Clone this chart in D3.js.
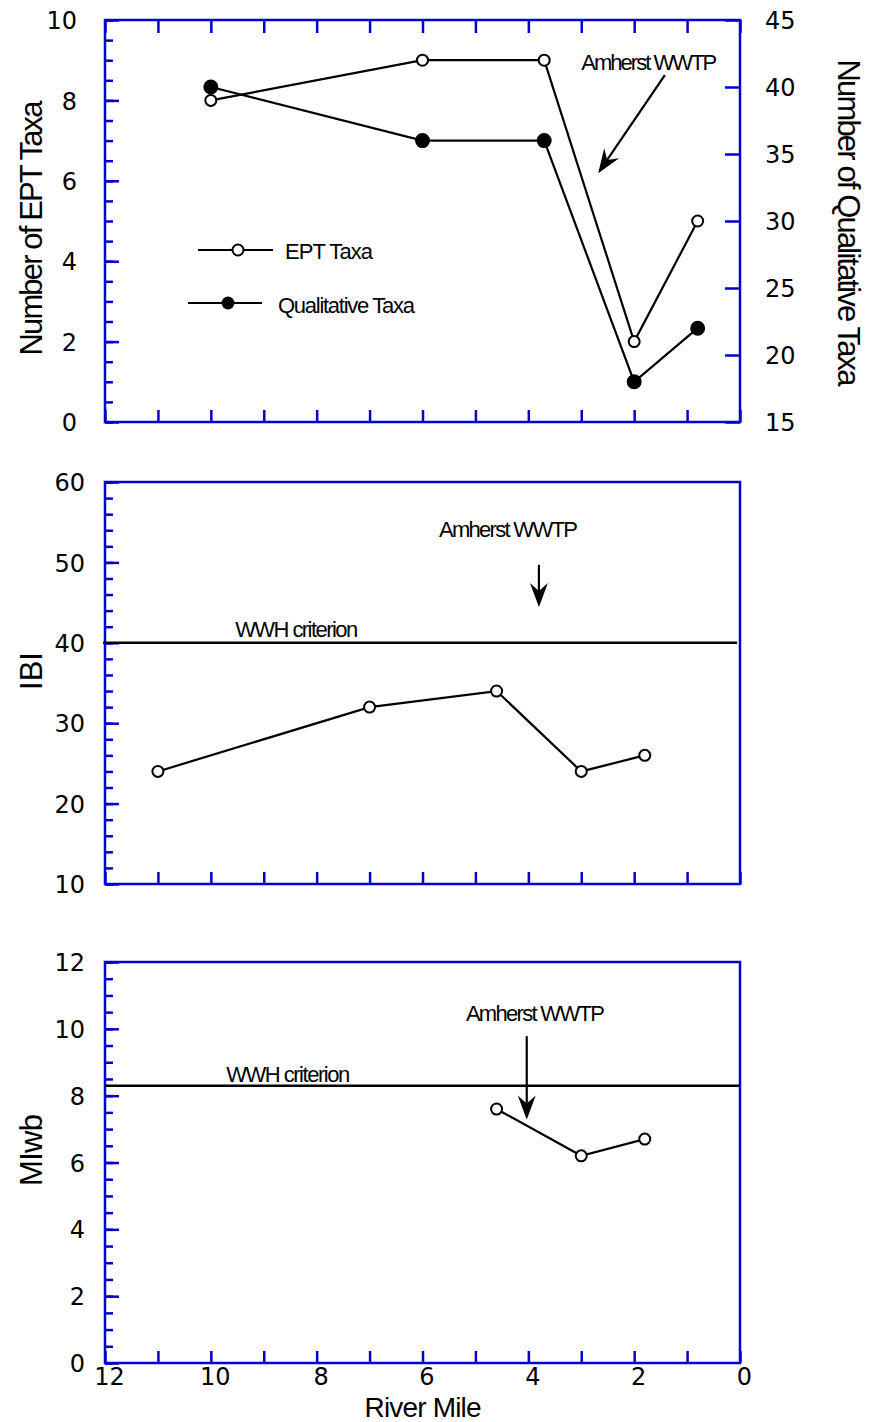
<!DOCTYPE html>
<html>
<head>
<meta charset="utf-8">
<script src="https://cdn.jsdelivr.net/npm/d3@7"></script>
<style>
  html, body { margin: 0; padding: 0; background: #ffffff; }
  svg { display: block; }
</style>
</head>
<body>
<svg id="chart" width="869" height="1422"></svg>
<script>
// ---- Data (river mile on x) ----
const eptMiles = [10, 6, 3.7, 2, 0.8];
const eptTaxa = [8, 9, 9, 2, 5];
const qualMiles = [10, 6, 3.7, 2, 0.8];
const qualTaxa = [40, 36, 36, 18, 22];
const ibiMiles = [11, 7, 4.6, 3, 1.8];
const ibiValues = [24, 32, 34, 24, 26];
const miwbMiles = [4.6, 3, 1.8];
const miwbValues = [7.6, 6.2, 6.7];
const ibiCriterion = 40;
const miwbCriterion = 8.3;

const xTickLabels = [12, 10, 8, 6, 4, 2, 0];
const eptTickLabels = [0, 2, 4, 6, 8, 10];
const qualTickLabels = [15, 20, 25, 30, 35, 40, 45];
const ibiTickLabels = [10, 20, 30, 40, 50, 60];
const miwbTickLabels = [0, 2, 4, 6, 8, 10, 12];

// ---- Layout ----
const AXIS = "#0000cc";
const svg = d3.select("#chart");
const left = 105, right = 740;
const x = d3.scaleLinear().domain([12, 0]).range([left, right]);

const yEpt = d3.scaleLinear().domain([0, 10]).range([422, 20]);
const yQual = d3.scaleLinear().domain([15, 45]).range([422, 20]);
const yIbi = d3.scaleLinear().domain([10, 60]).range([884, 482]);
const yMiwb = d3.scaleLinear().domain([0, 12]).range([1363, 962]);

const tickFont = "'DejaVu Sans', sans-serif";
const textFont = "'Liberation Sans', Arial, sans-serif";

function styleAxis(g) {
  g.select(".domain").remove();
  g.selectAll(".tick line").attr("stroke", AXIS).attr("stroke-width", 2.5);
  g.selectAll(".tick text").attr("fill", "#000").style("font-family", tickFont).style("font-size", "24px");
}

function range(a, b, step) {
  const out = [];
  for (let v = a; v <= b + 1e-9; v += step) out.push(+v.toFixed(4));
  return out;
}

// Frame, x ticks and left axis of a panel
function panelFrame(y, majors, minorStep, labelPad, opts) {
  const [y0, y1] = y.range();
  const g = svg.append("g");
  // minor ticks on the left axis
  g.append("g").attr("transform", `translate(${left},0)`)
    .call(d3.axisLeft(y).tickValues(range(y.domain()[0], y.domain()[1], minorStep)).tickSizeInner(-8).tickSizeOuter(0).tickFormat(""))
    .call(styleAxis);
  // major ticks with labels
  g.append("g").attr("transform", `translate(${left},0)`)
    .call(d3.axisLeft(y).tickValues(majors).tickSizeInner(-14).tickSizeOuter(0).tickPadding(labelPad).tickFormat(d3.format("d")))
    .call(styleAxis)
    .call(a => a.selectAll(".tick text").attr("dy", "0.36em"));
  // x ticks at each mile along the bottom
  g.append("g").attr("transform", `translate(0,${y0})`)
    .call(d3.axisBottom(x).tickValues(range(0, 12, 1)).tickSizeInner(-12).tickSizeOuter(0).tickFormat(""))
    .call(styleAxis);
  if (opts && opts.topTicks) {
    g.append("g").attr("transform", `translate(0,${y1})`)
      .call(d3.axisTop(x).tickValues(range(0, 12, 1)).tickSizeInner(-13).tickSizeOuter(0).tickFormat(""))
      .call(styleAxis);
  }
  // frame
  g.append("rect").attr("x", left).attr("y", y1).attr("width", right - left).attr("height", y0 - y1)
    .attr("fill", "none").attr("stroke", AXIS).attr("stroke-width", 2.5);
  return g;
}

function series(miles, values, y, filled, r) {
  const pts = miles.map((m, i) => [m, values[i]]);
  svg.append("path").datum(pts)
    .attr("d", d3.line().x(d => x(d[0])).y(d => y(d[1])))
    .attr("fill", "none").attr("stroke", "#000").attr("stroke-width", 2.2);
  svg.append("g").selectAll("circle").data(pts).join("circle")
    .attr("cx", d => x(d[0])).attr("cy", d => y(d[1])).attr("r", r)
    .attr("fill", filled ? "#000" : "#fff").attr("stroke", "#000").attr("stroke-width", 2);
}

function arrow(x1, y1, x2, y2) {
  const dx = x2 - x1, dy = y2 - y1, len = Math.hypot(dx, dy);
  const ux = dx / len, uy = dy / len, nx = -uy, ny = ux;
  const L = 24, W = 9, notch = 8;
  const bx = x2 - L * ux, by = y2 - L * uy;
  const mx = x2 - (L - notch) * ux, my = y2 - (L - notch) * uy;
  svg.append("line").attr("x1", x1).attr("y1", y1).attr("x2", mx).attr("y2", my)
    .attr("stroke", "#000").attr("stroke-width", 2.2);
  svg.append("path")
    .attr("d", `M${x2},${y2}L${bx + W * nx},${by + W * ny}L${mx},${my}L${bx - W * nx},${by - W * ny}Z`)
    .attr("fill", "#000");
}

function label(px, py, str, size, len, rotate) {
  const t = svg.append("text")
    .attr("transform", `translate(${px},${py})` + (rotate ? ` rotate(${rotate})` : ""))
    .attr("text-anchor", "middle")
    .style("font-family", textFont).style("font-size", size + "px")
    .text(str);
  if (len) t.attr("textLength", len).attr("lengthAdjust", "spacing");
  return t;
}

function note(px, py, str, len) {
  svg.append("text").attr("x", px).attr("y", py)
    .style("font-family", textFont).style("font-size", "22px")
    .attr("textLength", len).attr("lengthAdjust", "spacing")
    .text(str);
}

// ---- Panel 1: EPT and qualitative taxa ----
panelFrame(yEpt, eptTickLabels, 0.5, 28, { topTicks: true });
svg.append("g").attr("transform", `translate(${right},0)`)
  .call(d3.axisRight(yQual).tickValues(qualTickLabels).tickSizeInner(-15).tickSizeOuter(0).tickPadding(25).tickFormat(d3.format("d")))
  .call(styleAxis)
  .call(a => a.selectAll(".tick text").attr("dy", "0.36em"));

series(eptMiles, eptTaxa, yEpt, false, 5.5);
series(qualMiles, qualTaxa, yQual, true, 6.5);

// legend
svg.append("line").attr("x1", 198).attr("x2", 273).attr("y1", 250).attr("y2", 250).attr("stroke", "#000").attr("stroke-width", 2.2);
svg.append("circle").attr("cx", 238).attr("cy", 250).attr("r", 5.5).attr("fill", "#fff").attr("stroke", "#000").attr("stroke-width", 2);
note(285, 259, "EPT Taxa", 88);
svg.append("line").attr("x1", 188).attr("x2", 262).attr("y1", 303).attr("y2", 303).attr("stroke", "#000").attr("stroke-width", 2.2);
svg.append("circle").attr("cx", 228).attr("cy", 303).attr("r", 6.5).attr("fill", "#000");
note(278, 313, "Qualitative Taxa", 137);

note(x(3.0), yEpt(8.76), "Amherst WWTP", 136);
arrow(x(1.42), yEpt(8.63), x(2.68), yEpt(6.19));

label(42, 228, "Number of EPT Taxa", 31, 255, -90);
label(838, 223, "Number of Qualitative Taxa", 31, 327, 90);

// ---- Panel 2: IBI ----
panelFrame(yIbi, ibiTickLabels, 2, 20);
svg.append("line").attr("x1", left - 2).attr("x2", right - 3)
  .attr("y1", yIbi(ibiCriterion)).attr("y2", yIbi(ibiCriterion))
  .attr("stroke", "#000").attr("stroke-width", 2.5);
note(x(9.54), yIbi(40.7), "WWH criterion", 123);
note(x(5.69), yIbi(53.2), "Amherst WWTP", 139);
arrow(x(3.8), yIbi(49.7), x(3.8), yIbi(44.45));
series(ibiMiles, ibiValues, yIbi, false, 5.5);
label(42, 671, "IBI", 31, null, -90);

// ---- Panel 3: MIwb ----
panelFrame(yMiwb, miwbTickLabels, 0.5, 20);
svg.append("g").attr("transform", `translate(0,${yMiwb.range()[0]})`)
  .call(d3.axisBottom(x).tickValues(xTickLabels).tickSizeInner(0).tickSizeOuter(0).tickPadding(5).tickFormat(d3.format("d")))
  .call(styleAxis)
  .call(a => a.selectAll(".tick text").attr("dx", 4));
svg.append("line").attr("x1", left).attr("x2", right)
  .attr("y1", yMiwb(miwbCriterion)).attr("y2", yMiwb(miwbCriterion))
  .attr("stroke", "#000").attr("stroke-width", 2.5);
note(x(9.71), yMiwb(8.4), "WWH criterion", 124);
note(x(5.18), yMiwb(10.23), "Amherst WWTP", 139);
arrow(x(4.03), yMiwb(9.78), x(4.03), yMiwb(7.29));
series(miwbMiles, miwbValues, yMiwb, false, 5.5);
label(42, 1150, "MIwb", 31, 72, -90);

label(423, 1417, "River Mile", 28, 117, 0);
</script>
</body>
</html>
